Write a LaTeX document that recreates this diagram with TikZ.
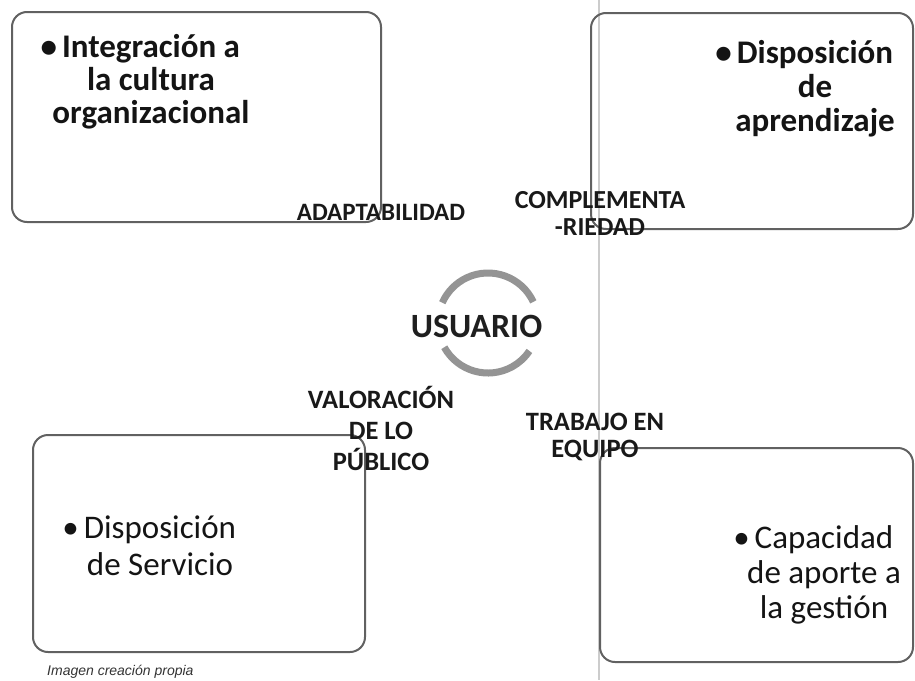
\documentclass[tikz,border=0pt]{standalone}
\usepackage{fontspec}
\setmainfont{Carlito}
\newfontfamily\captfont{Liberation Sans}
\newcommand{\mystack}[1]{\vtop{\halign{\hfil##\hfil\cr#1\crcr}}}
\newcommand{\bul}{\llap{\textbullet\hspace{5pt}}}
\begin{document}
\begin{tikzpicture}[x=1pt,y=-1pt,
  panel/.style={draw=black!62, line width=2pt, rounded corners=15pt, inner sep=0pt},
  boxtext/.style={inner sep=0pt, anchor=base, text=black!92},
  lbl/.style={inner sep=0pt, anchor=base, text=black!90, font=\bfseries\fontsize{25}{28}\selectfont},
  cyc/.style={draw=black!42, line width=7pt}
]
\useasboundingbox (0,0) rectangle (915,680);
% faint fold line of the scan
\coordinate (foldtop) at (599,0);
\coordinate (foldbot) at (599,680);
\draw[black!20, line width=1.2pt] (foldtop) -- (foldbot);

% panels
\node[panel, minimum width=369pt, minimum height=210pt] (tl) at (196.5,117) {};
\node[panel, minimum width=322pt, minimum height=216pt] (tr) at (752,121) {};
\node[panel, minimum width=332pt, minimum height=217pt] (bl) at (199,543.5) {};
\node[panel, minimum width=313pt, minimum height=214pt] (br) at (756.5,555) {};

% panel texts
\node[boxtext, font=\bfseries\fontsize{33}{33}\selectfont] (tltext) at (151,57)
  {\mystack{\bul Integración a\cr la cultura\cr organizacional}};
\node[boxtext, font=\bfseries\fontsize{33}{34}\selectfont] (trtext) at (815,63)
  {\mystack{\bul Disposición\cr de\cr aprendizaje}};
\node[boxtext, font=\fontsize{33}{37}\selectfont] (bltext) at (160,538)
  {\mystack{\bul Disposición\cr de Servicio}};
\node[boxtext, font=\fontsize{33}{35}\selectfont] (brtext) at (824,548)
  {\mystack{\bul Capacidad\cr de aporte a\cr la gestión}};

% labels
\node[lbl] (adapt) at (381,220) {ADAPTABILIDAD};
\node[lbl, font=\bfseries\fontsize{26}{27}\selectfont] (compl) at (600,208) {\mystack{COMPLEMENTA\cr -RIEDAD}};
\node[lbl, font=\bfseries\fontsize{26.5}{27}\selectfont] (trab) at (595,430) {\mystack{TRABAJO EN\cr EQUIPO}};
\node[lbl, font=\bfseries\fontsize{26.5}{31}\selectfont] (valor) at (381,408) {\mystack{VALORACIÓN\cr DE LO\cr PÚBLICO}};

% centre
\coordinate (cc) at (488,323);
\draw[cyc] ([shift={(-25:50)}]cc) arc[start angle=-25, end angle=-156, radius=50];
\draw[cyc] ([shift={(151:50)}]cc) arc[start angle=151, end angle=34, radius=50];
\node[inner sep=0pt, anchor=base, text=black!88, font=\bfseries\fontsize{34}{34}\selectfont] (usr) at (476.5,337) {USUARIO};

% caption
\node[inner sep=0pt, anchor=base west, text=black!80, font=\captfont\itshape\fontsize{14}{16}\selectfont] (cap) at (47,675) {Imagen creación propia};
\end{tikzpicture}
\end{document}
